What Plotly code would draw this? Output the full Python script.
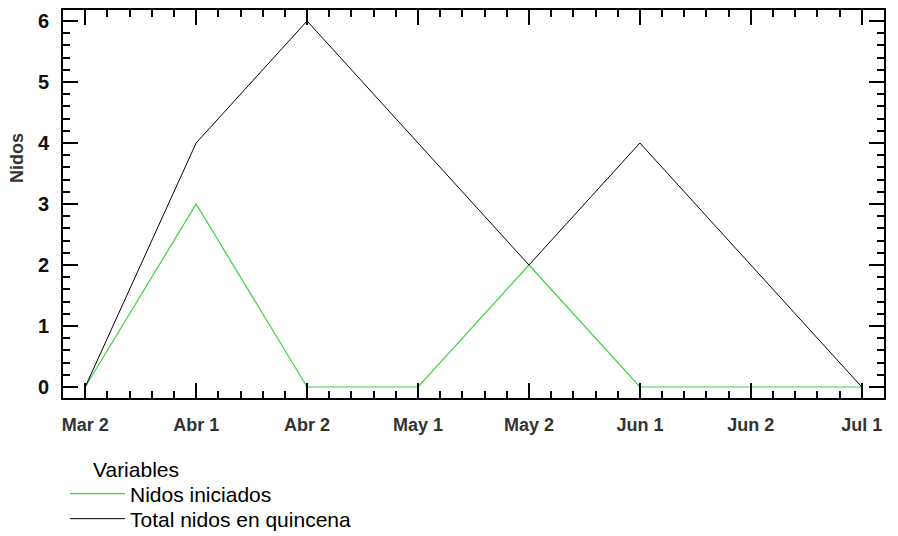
import plotly.graph_objects as go

quincenas = ["Mar 2", "Abr 1", "Abr 2", "May 1", "May 2", "Jun 1", "Jun 2", "Jul 1"]
nidos_iniciados = [0, 3, 0, 0, 2, 0, 0, 0]
total_nidos = [0, 4, 6, 4, 2, 4, 2, 0]

# the page body has an 8px margin, so the figure is shifted by that much
OFF = 8
W, H = 898 - OFF, 536 - OFF
L, R, T, B = 63 - OFF, 14, 10 - OFF, 138
pos = list(range(len(quincenas)))
pw = W - L - R
ph = H - T - B


def px_x(p):
    return (p - OFF - L) / pw


def px_y(p):
    return (H - B - (p - OFF)) / ph


fig = go.Figure()
fig.add_trace(go.Scatter(x=pos, y=nidos_iniciados, mode="lines", name="Nidos iniciados",
                         line={"color": "#3dd13d", "width": 1.2}, legend="legend"))
fig.add_trace(go.Scatter(x=pos, y=total_nidos, mode="lines", name="Total nidos en quincena",
                         line={"color": "#000000", "width": 1}, legend="legend2"))

axis_common = dict(showgrid=False, zeroline=False, showline=True, linecolor="black", linewidth=2,
                   mirror="allticks", ticks="inside", tickcolor="black", tickwidth=1.5, ticklen=15,
                   automargin=False)
minor = {"dtick": 0.2, "tick0": 0, "ticks": "inside", "ticklen": 7, "tickcolor": "black", "tickwidth": 1.5}

fig.update_xaxes(**axis_common, range=[-0.2, 7.2], tickvals=pos, ticktext=quincenas,
                 tickfont={"family": "Liberation Sans", "size": 18, "color": "#333333", "weight": "bold"},
                 ticklabelstandoff=9, minor=minor)
fig.update_yaxes(**axis_common, range=[-0.18, 6.18], tickvals=[0, 1, 2, 3, 4, 5, 6],
                 tickfont={"family": "Liberation Sans", "size": 20, "color": "#111111", "weight": "bold"},
                 ticklabelstandoff=8, minor=minor)

fig.add_annotation(text="Nidos", textangle=-90, xref="paper", yref="paper",
                   x=px_x(17), y=px_y(158), xanchor="center", yanchor="middle", showarrow=False,
                   font={"family": "Liberation Sans", "size": 18, "color": "#333333", "weight": "bold"})
fig.add_annotation(text="Variables", xref="paper", yref="paper", xanchor="left", yanchor="middle",
                   x=px_x(91), y=px_y(469), showarrow=False,
                   font={"family": "Liberation Sans", "size": 21, "color": "black"})

legend_style = {"xanchor": "left", "yanchor": "middle",
                "font": {"family": "Liberation Sans", "size": 21, "color": "black"},
                "itemwidth": 55, "bgcolor": "rgba(0,0,0,0)"}
fig.update_layout(
    width=W, height=H,
    margin={"l": L, "r": R, "t": T, "b": B, "autoexpand": False},
    paper_bgcolor="white", plot_bgcolor="white",
    showlegend=True,
    legend={**legend_style, "x": px_x(65), "y": px_y(494)},
    legend2={**legend_style, "x": px_x(65), "y": px_y(519)},
)

fig.write_html("out.html")
